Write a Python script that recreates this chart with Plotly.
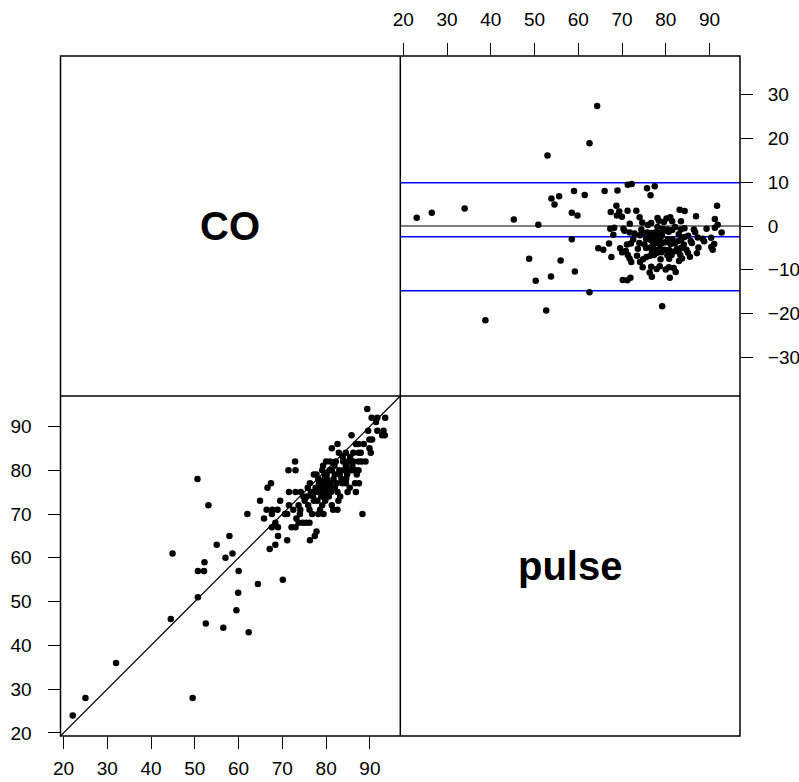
import plotly.graph_objects as go

# ---- data: CO vs pulse oximetry ----
co = [22.1, 25.0, 32.0, 49.5, 44.5, 44.9, 50.6, 53.1, 50.7, 50.7, 52.1, 52.2, 52.5, 55.0, 56.5,
      57.0, 57.9, 58.6, 60.0, 59.9, 59.5, 62.3, 64.4, 62.0, 70.1, 64.9, 65.8, 66.6, 67.4, 66.4,
      67.6, 67.7, 68.9, 67.1, 68.4, 69.0, 71.1, 67.6, 68.4, 69.0, 69.5, 70.6, 71.1, 71.5, 71.4,
      73.0, 72.9, 73.0, 72.1, 73.0, 73.7, 74.6, 75.4, 76.2, 71.5, 72.5, 73.7, 74.1, 74.2, 74.8,
      75.6, 75.8, 76.3, 77.2, 77.8, 78.2, 76.3, 77.4, 77.8, 75.9, 76.2, 76.8, 77.2, 78.2, 78.6,
      79.4, 77.1, 78.2, 78.8, 79.0, 79.2, 79.7, 79.7, 79.1, 80.0, 80.9, 81.3, 81.3, 82.6, 82.9,
      80.3, 81.0, 81.3, 81.6, 82.6, 81.1, 82.0, 82.6, 83.2, 82.0, 83.0, 83.5, 83.9, 84.5, 85.0,
      84.5, 85.8, 84.8, 85.8, 84.5, 85.4, 86.6, 86.8, 86.6, 87.4, 86.8, 86.2, 87.4, 87.9, 88.1,
      87.4, 86.2, 87.5, 88.3, 89.4, 90.4, 91.7, 93.5, 91.4, 91.7, 93.1, 92.8, 93.4, 89.9, 89.9,
      90.2, 89.6, 87.4,
      78.5, 79.6, 80.2, 78.9, 79.8, 80.5, 81.7, 82.4, 80.1, 79.3, 81.9, 83.1, 84.0, 83.7, 82.8,
      78.0, 77.0, 76.5, 79.1, 80.6, 84.6, 85.2, 86.0, 85.5, 87.0, 81.2, 79.9, 78.4, 77.6, 80.8,
      82.2, 83.8, 88.6, 89.0, 90.5, 75.1, 74.0, 73.2, 84.9]
pulse = [24, 28, 36, 28, 46, 61, 78, 72, 51, 57, 57, 59, 45, 63, 44,
         60, 65, 61, 57, 52, 48, 43, 54, 70, 55, 73, 69, 76, 77, 71,
         70, 71, 71, 62, 63, 65, 64, 67, 68, 67, 73, 70, 70, 75, 80,
         80, 82, 75, 67, 67, 68, 68, 68, 68, 72, 71, 72, 71, 75, 74,
         74, 76, 77, 79, 79, 78, 64, 65, 66, 72, 71, 70, 73, 70, 71,
         70, 75, 75, 76, 77, 75, 74, 79, 80, 82, 82, 80, 85, 86, 84,
         77, 77, 72, 71, 71, 75, 76, 75, 74, 79, 80, 78, 82, 81, 82,
         84, 88, 79, 80, 77, 76, 77, 75, 80, 80, 86, 84, 84, 84, 82,
         82, 82, 77, 70, 94, 92, 92, 92, 91, 89, 89, 88, 88, 87, 85,
         84, 89, 86,
         76, 78, 78, 74, 73, 75, 78, 77, 79, 81, 81, 79, 80, 77, 73,
         73, 74, 75, 72, 74, 78, 80, 81, 83, 79, 76, 76, 77, 76, 80,
         82, 83, 86, 82, 87, 73, 70, 69, 75]
method_names = ["CO", "pulse"]
ba_lines = [-14.75, -2.45, 9.85]          # lower LoA, mean difference, upper LoA
scatter_ticks = [20, 30, 40, 50, 60, 70, 80, 90]
diff_ticks = [-30, -20, -10, 0, 10, 20, 30]

avg = [(a + b) / 2 for a, b in zip(co, pulse)]
dif = [b - a for a, b in zip(co, pulse)]

W, H = 799, 782
def px(x):
    return x / W
def py(y):
    return 1 - y / H

L, M, R = 60.5, 400.3, 740.0
T, C, B = 56.0, 396.0, 736.0
rng = [19.3, 96.95]
drng = [-38.8, 38.8]

FAM = "Liberation Sans, Arial, Helvetica, sans-serif"
font = dict(family=FAM, size=19, color="black")

fig = go.Figure()
fig.add_trace(go.Scatter(x=co, y=pulse, mode="markers", xaxis="x", yaxis="y",
                         marker=dict(color="black", size=6.5), showlegend=False,
                         hoverinfo="skip"))
fig.add_trace(go.Scatter(x=rng, y=rng, mode="lines", xaxis="x", yaxis="y",
                         line=dict(color="black", width=1.2), showlegend=False,
                         hoverinfo="skip"))
fig.add_trace(go.Scatter(x=rng, y=[0, 0], mode="lines", xaxis="x2", yaxis="y2",
                         line=dict(color="black", width=1.2), showlegend=False,
                         hoverinfo="skip"))
for v in ba_lines:
    fig.add_trace(go.Scatter(x=rng, y=[v, v], mode="lines", xaxis="x2", yaxis="y2",
                             line=dict(color="#0000FF", width=1.5), showlegend=False,
                             hoverinfo="skip"))
fig.add_trace(go.Scatter(x=avg, y=dif, mode="markers", xaxis="x2", yaxis="y2",
                         marker=dict(color="black", size=6.5), showlegend=False,
                         hoverinfo="skip"))

axcommon = dict(showgrid=False, zeroline=False, showline=False, ticks="outside",
                ticklen=12, tickwidth=1, tickcolor="black", tickfont=font,
                automargin=False)

fig.update_layout(
    template="none",
    width=W, height=H, margin=dict(l=0, r=0, t=0, b=0, pad=0),
    paper_bgcolor="white", plot_bgcolor="white",
    xaxis=dict(domain=[px(L), px(M)], range=rng, anchor="y", side="bottom",
               tickvals=scatter_ticks, ticklabelstandoff=3, **axcommon),
    yaxis=dict(domain=[py(B), py(C)], range=rng, anchor="x", side="left",
               tickvals=scatter_ticks, ticklabelstandoff=12, **axcommon),
    xaxis2=dict(domain=[px(M), px(R)], range=rng, anchor="y2", side="top",
                tickvals=scatter_ticks, ticklabelstandoff=9, **axcommon),
    yaxis2=dict(domain=[py(C), py(T)], range=drng, anchor="x2", side="right",
                tickvals=diff_ticks, ticklabelstandoff=11, **axcommon),
)

shapes = [
    dict(type="rect", xref="paper", yref="paper", x0=px(L), x1=px(R), y0=py(B), y1=py(T),
         line=dict(color="black", width=1.5)),
    dict(type="line", xref="paper", yref="paper", x0=px(M), x1=px(M), y0=py(B), y1=py(T),
         line=dict(color="black", width=1.5)),
    dict(type="line", xref="paper", yref="paper", x0=px(L), x1=px(R), y0=py(C), y1=py(C),
         line=dict(color="black", width=1.5)),
]
fig.update_layout(shapes=shapes)

lab_font = dict(family=FAM, size=40, color="black")
fig.add_annotation(x=px((L + M) / 2), y=py((T + C) / 2), xref="paper", yref="paper",
                   xanchor="center", yanchor="middle",
                   text="<b>%s</b>" % method_names[0], showarrow=False, font=lab_font)
fig.add_annotation(x=px((M + R) / 2), y=py((C + B) / 2), xref="paper", yref="paper",
                   xanchor="center", yanchor="middle",
                   text="<b>%s</b>" % method_names[1], showarrow=False, font=lab_font)

fig.write_html("out.html")
